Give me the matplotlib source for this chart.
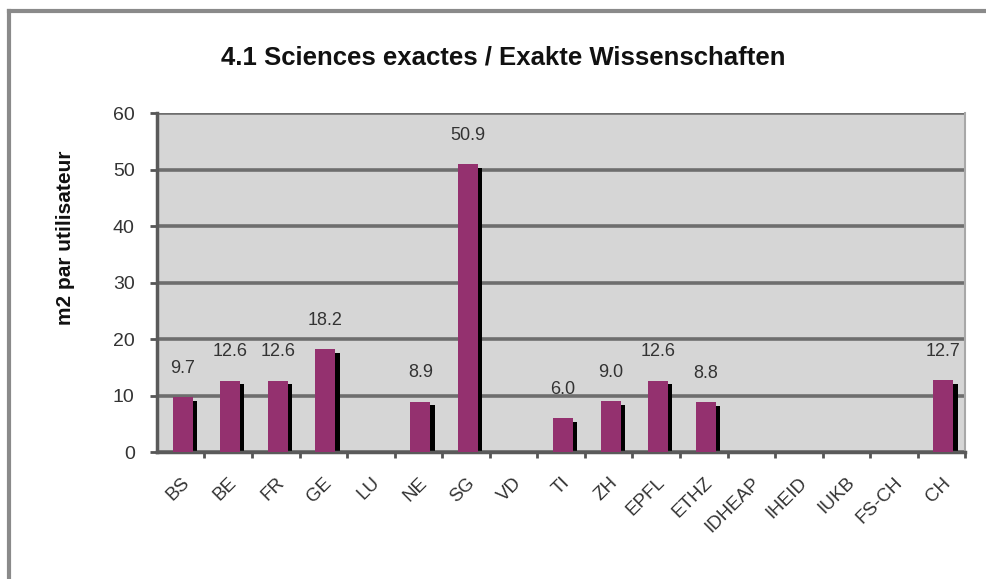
import numpy as np
import matplotlib
matplotlib.use('Agg')
import matplotlib.pyplot as plt
from matplotlib.lines import Line2D

plt.rcParams['font.family'] = ['Liberation Sans', 'DejaVu Sans']

categories = ['BS', 'BE', 'FR', 'GE', 'LU', 'NE', 'SG', 'VD', 'TI', 'ZH',
              'EPFL', 'ETHZ', 'IDHEAP', 'IHEID', 'IUKB', 'FS-CH', 'CH']
values = [9.7, 12.6, 12.6, 18.2, None, 8.9, 50.9, None, 6.0, 9.0,
          12.6, 8.8, None, None, None, None, 12.7]
yticks = [0, 10, 20, 30, 40, 50, 60]

title = '4.1 Sciences exactes / Exakte Wissenschaften'
ylabel = 'm2 par utilisateur'

fig = plt.figure(figsize=(9.87, 5.79), dpi=100)
ax = fig.add_axes([0.159, 0.2193, 0.819, 0.5855])
ax.set_facecolor('#d6d6d6')

x = np.arange(len(categories))
vals = np.array([np.nan if v is None else v for v in values])
has = ~np.isnan(vals)

# shadow behind bars
ax.bar(x[has] + 0.13, vals[has] - 0.6, width=0.42, color='black', zorder=2)
ax.bar(x[has] + 0.04, vals[has], width=0.42, color='#94316f', zorder=3)

for xi, v in zip(x[has], vals[has]):
    ax.text(xi + 0.04, v + 3.6, f'{v:.1f}', ha='center', va='bottom',
            fontsize=13, color='#333333', zorder=4)

ax.set_xlim(-0.5, len(categories) - 0.5)
ax.set_ylim(0, 60)
ax.set_yticks(yticks)
ax.yaxis.grid(True, color='#6e6e6e', linewidth=2.6, zorder=1)
ax.set_axisbelow(True)

ax.set_xticks(x + 0.5, minor=False)
ax.set_xticklabels([])
ax.tick_params(axis='x', which='major', length=4, width=2, color='#555555', direction='out')
ax.set_xticks(x, minor=True)
ax.set_xticklabels(categories, minor=True, rotation=45, ha='right',
                   rotation_mode='anchor', fontsize=13.5, color='#333333')
ax.tick_params(axis='x', which='minor', length=0, pad=16)
ax.tick_params(axis='y', length=5, width=2, color='#555555', labelsize=14,
               labelcolor='#333333', pad=11)

for side in ('left', 'bottom'):
    ax.spines[side].set_color('#5a5a5a')
    ax.spines[side].set_linewidth(2.5)
ax.spines['top'].set_visible(False)
ax.spines['right'].set_color('#a8a8a8')
ax.spines['right'].set_linewidth(1.5)

fig.text(0.066, 0.589, ylabel, rotation=90, ha='center', va='center',
         fontsize=15, fontweight='bold', color='#111111')
fig.text(0.51, 0.9, title, ha='center', va='center', fontsize=18.5,
         fontweight='bold', color='#111111')

# outer frame (top and left edges)
fig.add_artist(Line2D([0.009, 1.0], [0.981, 0.981], transform=fig.transFigure,
                      color='#8a8a8a', linewidth=3))
fig.add_artist(Line2D([0.009, 0.009], [0.0, 0.981], transform=fig.transFigure,
                      color='#8a8a8a', linewidth=3))

fig.savefig('out.png', dpi=100)
